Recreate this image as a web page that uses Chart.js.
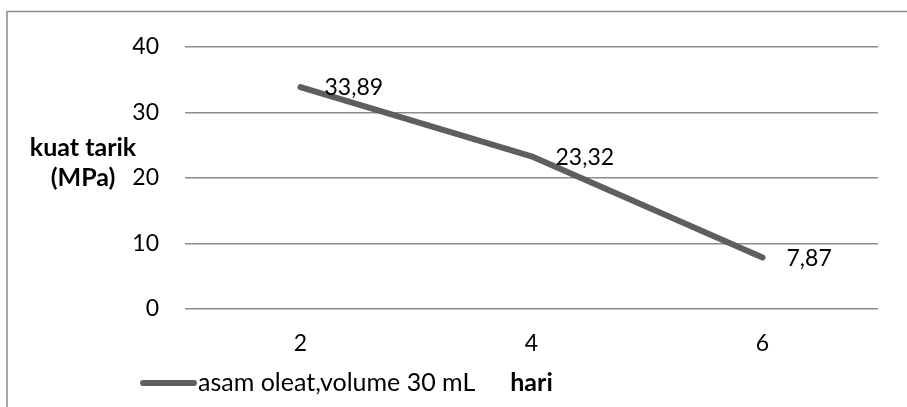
<!DOCTYPE html>
<html>
<head>
<meta charset="utf-8">
<script src="https://cdn.jsdelivr.net/npm/chart.js@4/dist/chart.umd.min.js"></script>
<style>
  html, body { margin: 0; padding: 0; background: #fff; overflow: hidden; }
  canvas { display: block; }
</style>
</head>
<body>
<canvas id="c" width="907" height="407"></canvas>
<script>
// Tensile strength over storage days (oleic acid, 30 mL)
const days = ['2', '4', '6'];
const tensileMPa = [33.89, 23.32, 7.87];
const yTicks = [0, 10, 20, 30, 40];
const seriesName = 'asam oleat,volume 30 mL';
const xTitle = 'hari';
const yTitleLines = ['kuat tarik', '(MPa)'];

const FONT = 'Lato, "Liberation Sans", sans-serif';
const NUM_SIZE = 23;
const TEXT_SIZE = 25;
const LINE_COLOR = '#5e5e5e';
const GRID_COLOR = '#8c8c8c';

// outer frame of the chart object
const framePlugin = {
  id: 'frame',
  beforeDraw(chart) {
    const ctx = chart.ctx;
    ctx.save();
    ctx.fillStyle = '#fff';
    ctx.fillRect(0, 0, chart.width, chart.height);
    ctx.strokeStyle = '#8a8a8a';
    ctx.lineWidth = 1.5;
    ctx.strokeRect(7, 11.5, 2000, 2000);
    ctx.restore();
  }
};

// value labels to the right of each point, with decimal comma
const valueLabels = {
  id: 'valueLabels',
  afterDatasetsDraw(chart) {
    const ctx = chart.ctx;
    const meta = chart.getDatasetMeta(0);
    const values = chart.data.datasets[0].data;
    ctx.save();
    ctx.font = NUM_SIZE + 'px ' + FONT;
    ctx.fillStyle = '#000';
    ctx.textAlign = 'left';
    ctx.textBaseline = 'middle';
    meta.data.forEach((pt, i) => {
      const txt = values[i].toFixed(2).replace('.', ',');
      ctx.fillText(txt, pt.x + 24, pt.y + 1);
    });
    ctx.restore();
  }
};

// horizontal y-axis title on the left and the legend entry at the bottom-left
const sideTexts = {
  id: 'sideTexts',
  afterDraw(chart) {
    const ctx = chart.ctx;
    const ds = chart.data.datasets[0];
    ctx.save();
    ctx.fillStyle = '#000';
    ctx.font = 'bold ' + TEXT_SIZE + 'px ' + FONT;
    ctx.textAlign = 'center';
    ctx.textBaseline = 'middle';
    ctx.fillText(yTitleLines[0], 83, 148);
    ctx.fillText(yTitleLines[1], 83, 178);

    const ly = 383;
    ctx.strokeStyle = ds.borderColor;
    ctx.lineWidth = 6;
    ctx.lineCap = 'round';
    ctx.beginPath();
    ctx.moveTo(143, ly);
    ctx.lineTo(194, ly);
    ctx.stroke();
    ctx.font = TEXT_SIZE + 'px ' + FONT;
    ctx.textAlign = 'left';
    ctx.fillText(ds.label, 198, ly);
    ctx.restore();
  }
};

new Chart(document.getElementById('c'), {
  type: 'line',
  data: {
    labels: days,
    datasets: [{
      label: seriesName,
      data: tensileMPa,
      borderColor: LINE_COLOR,
      backgroundColor: LINE_COLOR,
      borderWidth: 6,
      borderCapStyle: 'round',
      borderJoinStyle: 'round',
      pointRadius: 0,
      tension: 0
    }]
  },
  options: {
    responsive: false,
    animation: false,
    devicePixelRatio: 1,
    layout: { padding: { left: 0, top: 47, right: 29, bottom: 0 } },
    plugins: {
      legend: { display: false },
      tooltip: { enabled: false }
    },
    scales: {
      x: {
        offset: true,
        grid: { display: false, drawTicks: false },
        border: { display: false },
        ticks: { color: '#000', font: { family: FONT, size: NUM_SIZE }, padding: 21 },
        title: {
          display: true,
          text: xTitle,
          color: '#000',
          font: { family: FONT, size: TEXT_SIZE, weight: 'bold' },
          padding: { top: 0, bottom: 9 }
        },
        afterFit(scale) { scale.height = 98; }
      },
      y: {
        min: 0,
        max: 40,
        afterBuildTicks(scale) { scale.ticks = yTicks.map(v => ({ value: v })); },
        grid: { color: GRID_COLOR, lineWidth: 1.5, drawTicks: false },
        border: { display: false },
        ticks: { color: '#000', font: { family: FONT, size: NUM_SIZE }, padding: 26 },
        afterFit(scale) { scale.width = 185; }
      }
    }
  },
  plugins: [framePlugin, valueLabels, sideTexts]
});
</script>
</body>
</html>
